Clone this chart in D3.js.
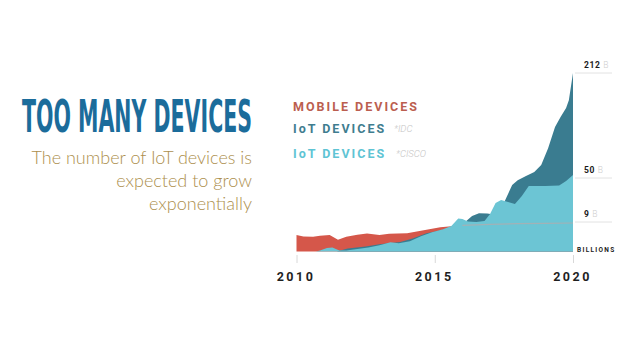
<!DOCTYPE html>
<html>
<head>
<meta charset="utf-8">
<script src="https://cdn.jsdelivr.net/npm/d3@7"></script>
<style>
  html, body { margin: 0; padding: 0; background: #ffffff; }
  svg { display: block; }
</style>
</head>
<body>
<div id="chart"></div>
<script>
// ---------------- DATA ----------------
const titleText = "TOO MANY DEVICES";
const subtitleLines = ["The number of IoT devices is", "expected to grow", "exponentially"];
const legendLabels = ["MOBILE DEVICES", "IoT DEVICES", "IoT DEVICES"];
const legendSources = ["*IDC", "*CISCO"];
const tickYears = [2010, 2015, 2020];
const gridValues = [212, 50, 9];
const gridUnit = "B";
const unitLabel = "BILLIONS";

// Mobile devices (billions)
const mobileYears  = [2010.0, 2010.25, 2010.6, 2010.85, 2011.2, 2011.5, 2011.8, 2012.2, 2012.55, 2013.0, 2013.35, 2013.65, 2014.0, 2014.4, 2014.8, 2015.2, 2016.0, 2017.0, 2018.0, 2019.0, 2020.0];
const mobileValues = [5.0, 4.6, 4.5, 4.8, 5.0, 3.6, 4.5, 5.1, 5.5, 5.0, 5.4, 5.5, 5.6, 6.2, 6.8, 7.4, 8.0, 8.3, 8.5, 8.6, 8.7];

// IoT devices, IDC (billions)
const idcYears  = [2010.0, 2011.45, 2011.85, 2012.5, 2013.0, 2013.75, 2014.2, 2014.7, 2015.2, 2015.45, 2015.8, 2016.1, 2016.35, 2016.6, 2016.9, 2017.25, 2017.5, 2017.8, 2018.0, 2018.3, 2018.6, 2018.85, 2019.1, 2019.35, 2019.55, 2019.75, 2019.85, 2020.0];
const idcValues = [0, 0, 0.9, 1.55, 2.2, 2.9, 4.0, 5.6, 6.4, 7.0, 7.5, 9.0, 14.6, 17.1, 16.9, 15.5, 26.7, 43.5, 48, 53, 59.3, 70, 96, 128.7, 144, 158, 170, 212];

// IoT devices, Cisco (billions)
const ciscoYears  = [2010.0, 2010.7, 2010.85, 2011.1, 2011.3, 2011.55, 2011.8, 2012.2, 2012.6, 2013.0, 2013.4, 2013.7, 2014.1, 2014.5, 2014.9, 2015.3, 2015.6, 2015.85, 2016.0, 2016.2, 2016.5, 2016.8, 2017.0, 2017.2, 2017.4, 2017.65, 2017.9, 2018.15, 2018.4, 2019.0, 2019.5, 2019.75, 2020.0];
const ciscoValues = [0, 0, 0.3, 1.1, 1.2, 0.3, 0.3, 0.8, 1.2, 1.9, 2.8, 2.5, 3.1, 4.65, 5.9, 6.8, 7.75, 12.3, 11.8, 9.5, 9.0, 9.9, 16.5, 26.7, 29.5, 27.6, 25.8, 33.2, 42.5, 42.5, 43, 47.2, 54.6];

// ---------------- STYLE ----------------
const W = 620, H = 349;
const colors = { mobile: "#d5574a", idc: "#3a7c90", cisco: "#6cc5d4" };
const legendColors = ["#bb5e4f", "#3f7d8f", "#5ec4d4"];

const svg = d3.select("#chart").append("svg")
  .attr("width", W).attr("height", H)
  .style("background", "#fff");

// ---------------- SCALES ----------------
const x = d3.scaleLinear().domain([2010, 2020]).range([296.5, 573]);
const y = d3.scaleLinear().domain([0, 9, 50, 212]).range([251.5, 222, 178, 73]);

const toPts = (ys, vs) => ys.map((yr, i) => ({ year: yr, value: vs[i] }));
const area = d3.area()
  .x(d => x(d.year))
  .y0(y(0))
  .y1(d => y(d.value))
  .curve(d3.curveLinear);
const line = d3.line()
  .x(d => x(d.year))
  .y(d => y(d.value))
  .curve(d3.curveLinear);

const mobile = toPts(mobileYears, mobileValues);
const idc = toPts(idcYears, idcValues);
const cisco = toPts(ciscoYears, ciscoValues);

// ---------------- TITLE ----------------
svg.append("text")
  .attr("x", 22).attr("y", 131.5)
  .attr("textLength", 230)
  .attr("lengthAdjust", "spacingAndGlyphs")
  .style("font-family", "'Liberation Sans Narrow', 'DejaVu Sans Condensed', 'Roboto', sans-serif")
  .style("font-weight", "bold")
  .style("font-size", "44px")
  .style("fill", "#1b6c9b")
  .text(titleText);

svg.selectAll(".sub").data(subtitleLines).enter().append("text")
  .attr("class", "sub")
  .attr("x", 252)
  .attr("y", (d, i) => 164 + i * 23)
  .attr("text-anchor", "end")
  .style("font-family", "Lato, 'Open Sans', sans-serif")
  .style("font-weight", 300)
  .style("font-size", "18px")
  .style("fill", "#ad8f4e")
  .text(d => d);

// ---------------- AREAS ----------------
svg.append("path").datum(mobile).attr("d", area).attr("fill", colors.mobile);
svg.append("path").datum(idc).attr("d", area).attr("fill", colors.idc);
svg.append("path").datum(cisco).attr("d", area).attr("fill", colors.cisco);
// faint mobile trace visible over the IoT areas
svg.append("path").datum(mobile.filter(d => d.year >= 2015.5)).attr("d", line)
  .attr("fill", "none").attr("stroke", "#b9a9aa").attr("stroke-opacity", 0.7).attr("stroke-width", 1.2);

// ---------------- X AXIS ----------------
const xAxis = d3.axisBottom(x).tickValues(tickYears).tickFormat(d3.format("d")).tickSize(8).tickPadding(9);
const gx = svg.append("g").attr("transform", `translate(0,${255})`).call(xAxis);
gx.select(".domain").remove();
gx.selectAll(".tick line").attr("stroke", "#d8d8d8").attr("stroke-width", 1);
gx.selectAll(".tick text")
  .attr("dx", "-1px")
  .style("font-family", "Roboto, 'DejaVu Sans', sans-serif")
  .style("font-weight", "bold")
  .style("font-size", "12.5px")
  .style("letter-spacing", "2.5px")
  .style("fill", "#1f1f1f");

// ---------------- RIGHT GRID LABELS ----------------
const gGrid = svg.append("g");
gGrid.selectAll("line").data(gridValues).enter().append("line")
  .attr("x1", 575).attr("x2", 612)
  .attr("y1", d => y(d)).attr("y2", d => y(d))
  .attr("stroke", "#e2e2e2").attr("stroke-width", 1);
const gl = gGrid.selectAll("text").data(gridValues).enter().append("text")
  .attr("x", 584)
  .attr("y", d => y(d) - 5)
  .style("font-family", "Roboto, 'DejaVu Sans', sans-serif")
  .style("font-size", "8.5px")
  .style("letter-spacing", "0.6px");
gl.append("tspan").style("font-weight", "bold").style("fill", "#1a1a1a").text(d => d + " ");
gl.append("tspan").style("fill", "#cfcfcf").style("font-weight", 300).text(gridUnit);

svg.append("text")
  .attr("x", 577).attr("y", 251.5)
  .style("font-family", "Roboto, 'DejaVu Sans', sans-serif")
  .style("font-weight", "bold")
  .style("font-size", "6.5px")
  .style("letter-spacing", "1.3px")
  .style("fill", "#222")
  .text(unitLabel);

// ---------------- LEGEND ----------------
const legendY = [110.7, 133.3, 157.5];
const lg = svg.append("g");
lg.selectAll("text.lab").data(legendLabels).enter().append("text")
  .attr("class", "lab")
  .attr("x", 293)
  .attr("y", (d, i) => legendY[i])
  .style("font-family", "Roboto, 'DejaVu Sans', sans-serif")
  .style("font-weight", "bold")
  .style("font-size", "12.5px")
  .style("letter-spacing", "2px")
  .style("fill", (d, i) => legendColors[i])
  .text(d => d);
lg.selectAll("text.src").data(legendSources).enter().append("text")
  .attr("class", "src")
  .attr("x", (d, i) => i === 0 ? 394 : 396)
  .attr("y", (d, i) => legendY[i + 1] - 1)
  .style("font-family", "Roboto, 'DejaVu Sans', sans-serif")
  .style("font-style", "italic")
  .style("font-weight", 300)
  .style("font-size", "9.5px")
  .style("fill", "#c4c4c4")
  .text(d => d);
</script>
</body>
</html>
